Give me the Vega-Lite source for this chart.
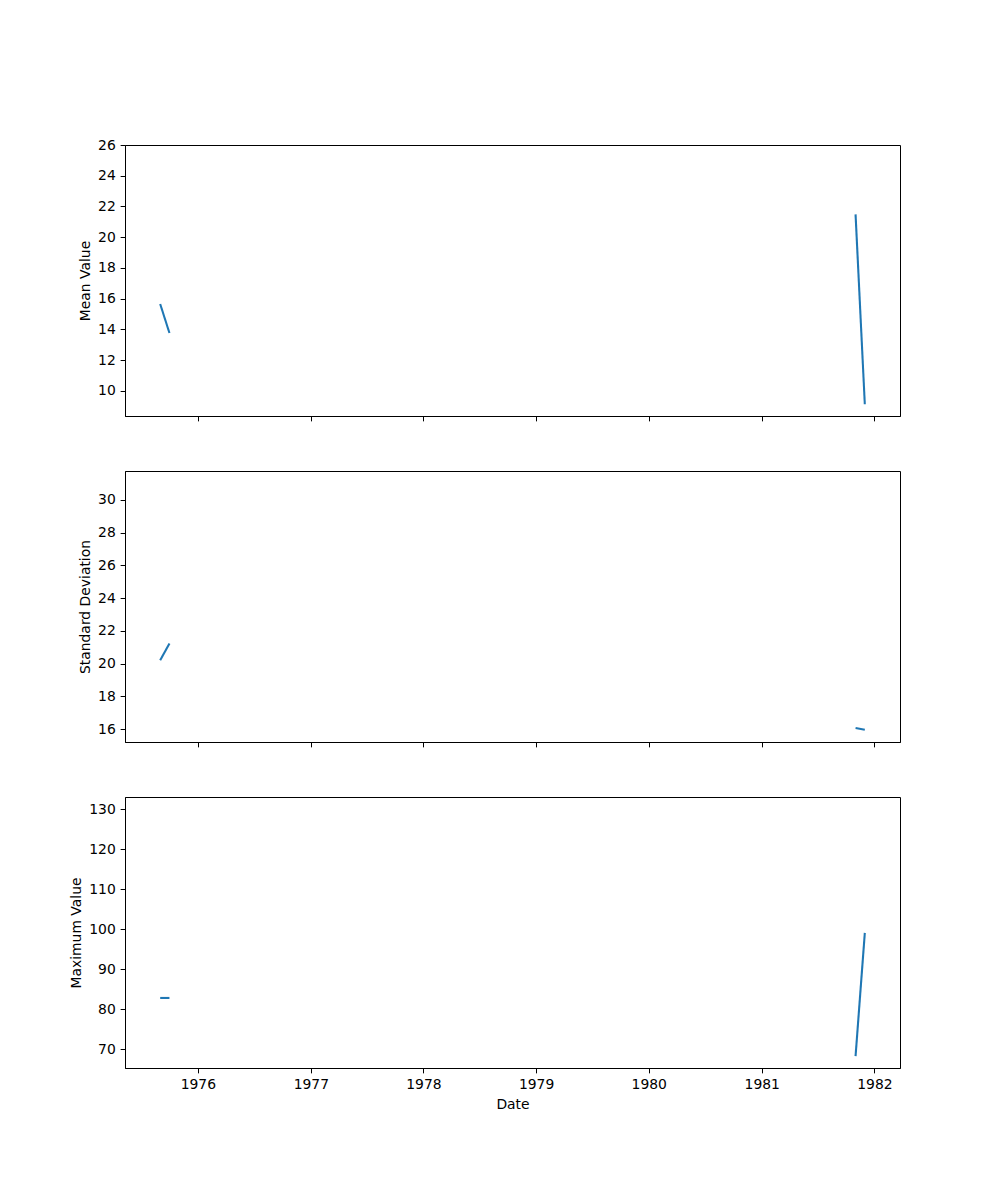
{
  "$schema": "https://vega.github.io/schema/vega-lite/v6.json",
  "background": "white",
  "padding": {"left": 68, "top": 137, "right": 0, "bottom": 0},
  "spacing": 48,
  "data": {
    "values": [
      {"date": "1975-09-01", "period": "a", "mean": 15.66, "std": 20.2, "max": 82.85},
      {"date": "1975-10-01", "period": "a", "mean": 13.77, "std": 21.23, "max": 82.85},
      {"date": "1981-11-01", "period": "b", "mean": 21.49, "std": 16.06, "max": 68.3},
      {"date": "1981-12-01", "period": "b", "mean": 9.13, "std": 15.96, "max": 99.1}
    ]
  },
  "vconcat": [
    {
      "width": 775,
      "height": 271,
      "mark": {"type": "line", "color": "#1f77b4", "strokeWidth": 2.08},
      "encoding": {
        "x": {
          "field": "date", "type": "temporal",
          "scale": {"type": "utc", "domain": [{"year": 1975, "month": 5, "date": 10, "utc": true}, {"year": 1982, "month": 3, "date": 25, "utc": true}]},
          "axis": {"title": null, "labels": false, "values": [{"year": 1976, "utc": true}, {"year": 1977, "utc": true}, {"year": 1978, "utc": true}, {"year": 1979, "utc": true}, {"year": 1980, "utc": true}, {"year": 1981, "utc": true}, {"year": 1982, "utc": true}]}
        },
        "y": {
          "field": "mean", "type": "quantitative", "title": "Mean Value",
          "scale": {"domain": [8.37, 26.0], "nice": false, "zero": false},
          "axis": {"values": [10, 12, 14, 16, 18, 20, 22, 24, 26]}
        },
        "detail": {"field": "period"}
      }
    },
    {
      "width": 775,
      "height": 271,
      "mark": {"type": "line", "color": "#1f77b4", "strokeWidth": 2.08},
      "encoding": {
        "x": {
          "field": "date", "type": "temporal",
          "scale": {"type": "utc", "domain": [{"year": 1975, "month": 5, "date": 10, "utc": true}, {"year": 1982, "month": 3, "date": 25, "utc": true}]},
          "axis": {"title": null, "labels": false, "values": [{"year": 1976, "utc": true}, {"year": 1977, "utc": true}, {"year": 1978, "utc": true}, {"year": 1979, "utc": true}, {"year": 1980, "utc": true}, {"year": 1981, "utc": true}, {"year": 1982, "utc": true}]}
        },
        "y": {
          "field": "std", "type": "quantitative", "title": "Standard Deviation",
          "scale": {"domain": [15.21, 31.77], "nice": false, "zero": false},
          "axis": {"values": [16, 18, 20, 22, 24, 26, 28, 30]}
        },
        "detail": {"field": "period"}
      }
    },
    {
      "width": 775,
      "height": 271,
      "mark": {"type": "line", "color": "#1f77b4", "strokeWidth": 2.08},
      "encoding": {
        "x": {
          "field": "date", "type": "temporal", "title": "Date",
          "scale": {"type": "utc", "domain": [{"year": 1975, "month": 5, "date": 10, "utc": true}, {"year": 1982, "month": 3, "date": 25, "utc": true}]},
          "axis": {"format": "%Y", "values": [{"year": 1976, "utc": true}, {"year": 1977, "utc": true}, {"year": 1978, "utc": true}, {"year": 1979, "utc": true}, {"year": 1980, "utc": true}, {"year": 1981, "utc": true}, {"year": 1982, "utc": true}]}
        },
        "y": {
          "field": "max", "type": "quantitative", "title": "Maximum Value",
          "scale": {"domain": [65.35, 133.06], "nice": false, "zero": false},
          "axis": {"values": [70, 80, 90, 100, 110, 120, 130]}
        },
        "detail": {"field": "period"}
      }
    }
  ],
  "config": {
    "view": {"stroke": "black", "strokeWidth": 1},
    "axis": {
      "grid": false,
      "labelFont": "DejaVu Sans", "labelFontSize": 13.9, "labelColor": "black",
      "titleFont": "DejaVu Sans", "titleFontSize": 13.9, "titleFontWeight": "normal", "titleColor": "black",
      "tickColor": "black", "domainColor": "black", "tickSize": 4.86, "labelPadding": 4.86, "titlePadding": 5.56,
      "labelFlush": false, "labelOverlap": false
    }
  }
}
